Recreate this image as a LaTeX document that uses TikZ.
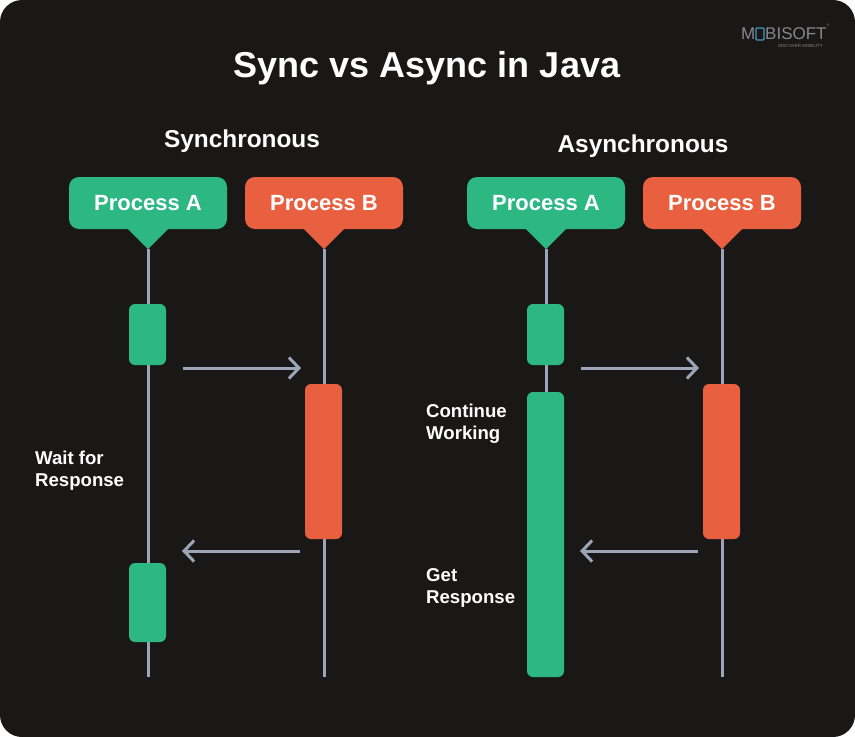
\documentclass[tikz,border=0pt]{standalone}
\usepackage{fontspec}
\setmainfont{Liberation Sans}
\usetikzlibrary{arrows.meta}
\definecolor{panelbg}{HTML}{1A1717}
\definecolor{procgreen}{HTML}{2DB783}
\definecolor{procred}{HTML}{E86040}
\definecolor{lifegray}{HTML}{9AA6B8}
\definecolor{logogray}{HTML}{85888B}
\definecolor{logoblue}{HTML}{3F9CC0}
\begin{document}
\begin{tikzpicture}[x=1pt,y=-1pt]
          %% background
          \tikzstyle{procbox}=[text=white,font=\bfseries\fontsize{22}{22}\selectfont,minimum width=158pt,minimum height=52pt,inner sep=0pt,rounded corners=10pt]
          \tikzstyle{activity}=[minimum width=37pt,inner sep=0pt,rounded corners=6pt]
          \tikzstyle{lifeline}=[draw=lifegray,line width=3pt]
          \tikzstyle{msg}=[draw=lifegray,line width=3pt,-{Straight Barb[length=10pt,width=21pt,line width=3pt]}]
          \tikzstyle{sidelabel}=[text=white,font=\bfseries\fontsize{18.6}{22}\selectfont,align=left,anchor=west,inner sep=0pt]
          \tikzstyle{heading}=[text=white,font=\bfseries\fontsize{24.4}{24}\selectfont,inner sep=0pt]
          \tikzstyle{logotext}=[text=logogray,font=\fontsize{17}{17}\selectfont,inner sep=0pt,anchor=west]

          \useasboundingbox (0,0) rectangle (855,737);
          \fill[white] (0,0) rectangle (855,737);
          \fill[panelbg,rounded corners=22pt] (0,0) rectangle (855,737);

          % titles
          \node[text=white,font=\bfseries\fontsize{36}{36}\selectfont,inner sep=0pt] (title) at (427,68) {Sync vs Async in Java};
          \node[heading] (syncT) at (242,141) {Synchronous};
          \node[heading] (asyncT) at (643,146) {Asynchronous};

          % logo
          \node[logotext] (logoM) at (741,34) {M};
          \node[draw=logoblue,line width=1.4pt,minimum width=8pt,minimum height=12pt,inner sep=0pt,rounded corners=1pt] (logoO) at (760,34) {};
          \node[logotext] (logoS) at (765,34) {BISOFT};
          \node[text=logogray,font=\fontsize{3.5}{4}\selectfont,inner sep=0pt] (logoR) at (828,25) {®};
          \node[text=logogray,font=\fontsize{4.4}{5}\selectfont,inner sep=0pt,anchor=east] (logoD) at (823,46) {DISCOVER MOBILITY};

          % pointer tips and line ends, synchronous
          \coordinate (tipA1) at (148,249);
          \coordinate (tipB1) at (324,249);
          \coordinate (endA1) at (148,677);
          \coordinate (endB1) at (324,677);
          % pointer tips and line ends, asynchronous
          \coordinate (tipA2) at (546,249);
          \coordinate (tipB2) at (722,249);
          \coordinate (endA2) at (546,677);
          \coordinate (endB2) at (722,677);

          % life lines
          \draw[lifeline] (tipA1) -- (endA1);
          \draw[lifeline] (tipB1) -- (endB1);
          \draw[lifeline] (tipA2) -- (endA2);
          \draw[lifeline] (tipB2) -- (endB2);

          % process boxes
          \node[procbox,fill=procgreen] (procA1) at (148,203) {\raisebox{-1pt}{Process A}};
          \node[procbox,fill=procred] (procB1) at (324,203) {\raisebox{-1pt}{Process B}};
          \node[procbox,fill=procgreen] (procA2) at (546,203) {\raisebox{-1pt}{Process A}};
          \node[procbox,fill=procred] (procB2) at (722,203) {\raisebox{-1pt}{Process B}};
          \fill[procgreen] ([xshift=-21pt,yshift=1pt]procA1.south) -- ([xshift=21pt,yshift=1pt]procA1.south) -- (tipA1) -- cycle;
          \fill[procred] ([xshift=-21pt,yshift=1pt]procB1.south) -- ([xshift=21pt,yshift=1pt]procB1.south) -- (tipB1) -- cycle;
          \fill[procgreen] ([xshift=-21pt,yshift=1pt]procA2.south) -- ([xshift=21pt,yshift=1pt]procA2.south) -- (tipA2) -- cycle;
          \fill[procred] ([xshift=-21pt,yshift=1pt]procB2.south) -- ([xshift=21pt,yshift=1pt]procB2.south) -- (tipB2) -- cycle;

          % activity bars, synchronous
          \node[activity,fill=procgreen,minimum height=61pt] (barA1) at (147.5,334.5) {};
          \node[activity,fill=procred,minimum height=155pt] (barB1) at (323.5,461.5) {};
          \node[activity,fill=procgreen,minimum height=79pt] (barC1) at (147.5,602.5) {};
          % activity bars, asynchronous
          \node[activity,fill=procgreen,minimum height=61pt] (barA2) at (545.5,334.5) {};
          \node[activity,fill=procgreen,minimum height=285pt] (barC2) at (545.5,534.5) {};
          \node[activity,fill=procred,minimum height=155pt] (barB2) at (721.5,461.5) {};

          % messages
          \coordinate (sendS1) at (183,368);
          \coordinate (sendE1) at (301,368);
          \coordinate (backS1) at (300,551);
          \coordinate (backE1) at (182,551);
          \coordinate (sendS2) at (581,368);
          \coordinate (sendE2) at (699,368);
          \coordinate (backS2) at (698,551);
          \coordinate (backE2) at (580,551);
          \draw[msg] (sendS1) -- (sendE1);
          \draw[msg] (backS1) -- (backE1);
          \draw[msg] (sendS2) -- (sendE2);
          \draw[msg] (backS2) -- (backE2);

          % side labels
          \node[sidelabel] (waitL) at (35,471) {Wait for\\Response};
          \node[sidelabel] (contL) at (426,424) {Continue\\Working};
          \node[sidelabel] (getL) at (426,588) {Get\\Response};
\end{tikzpicture}
\end{document}
